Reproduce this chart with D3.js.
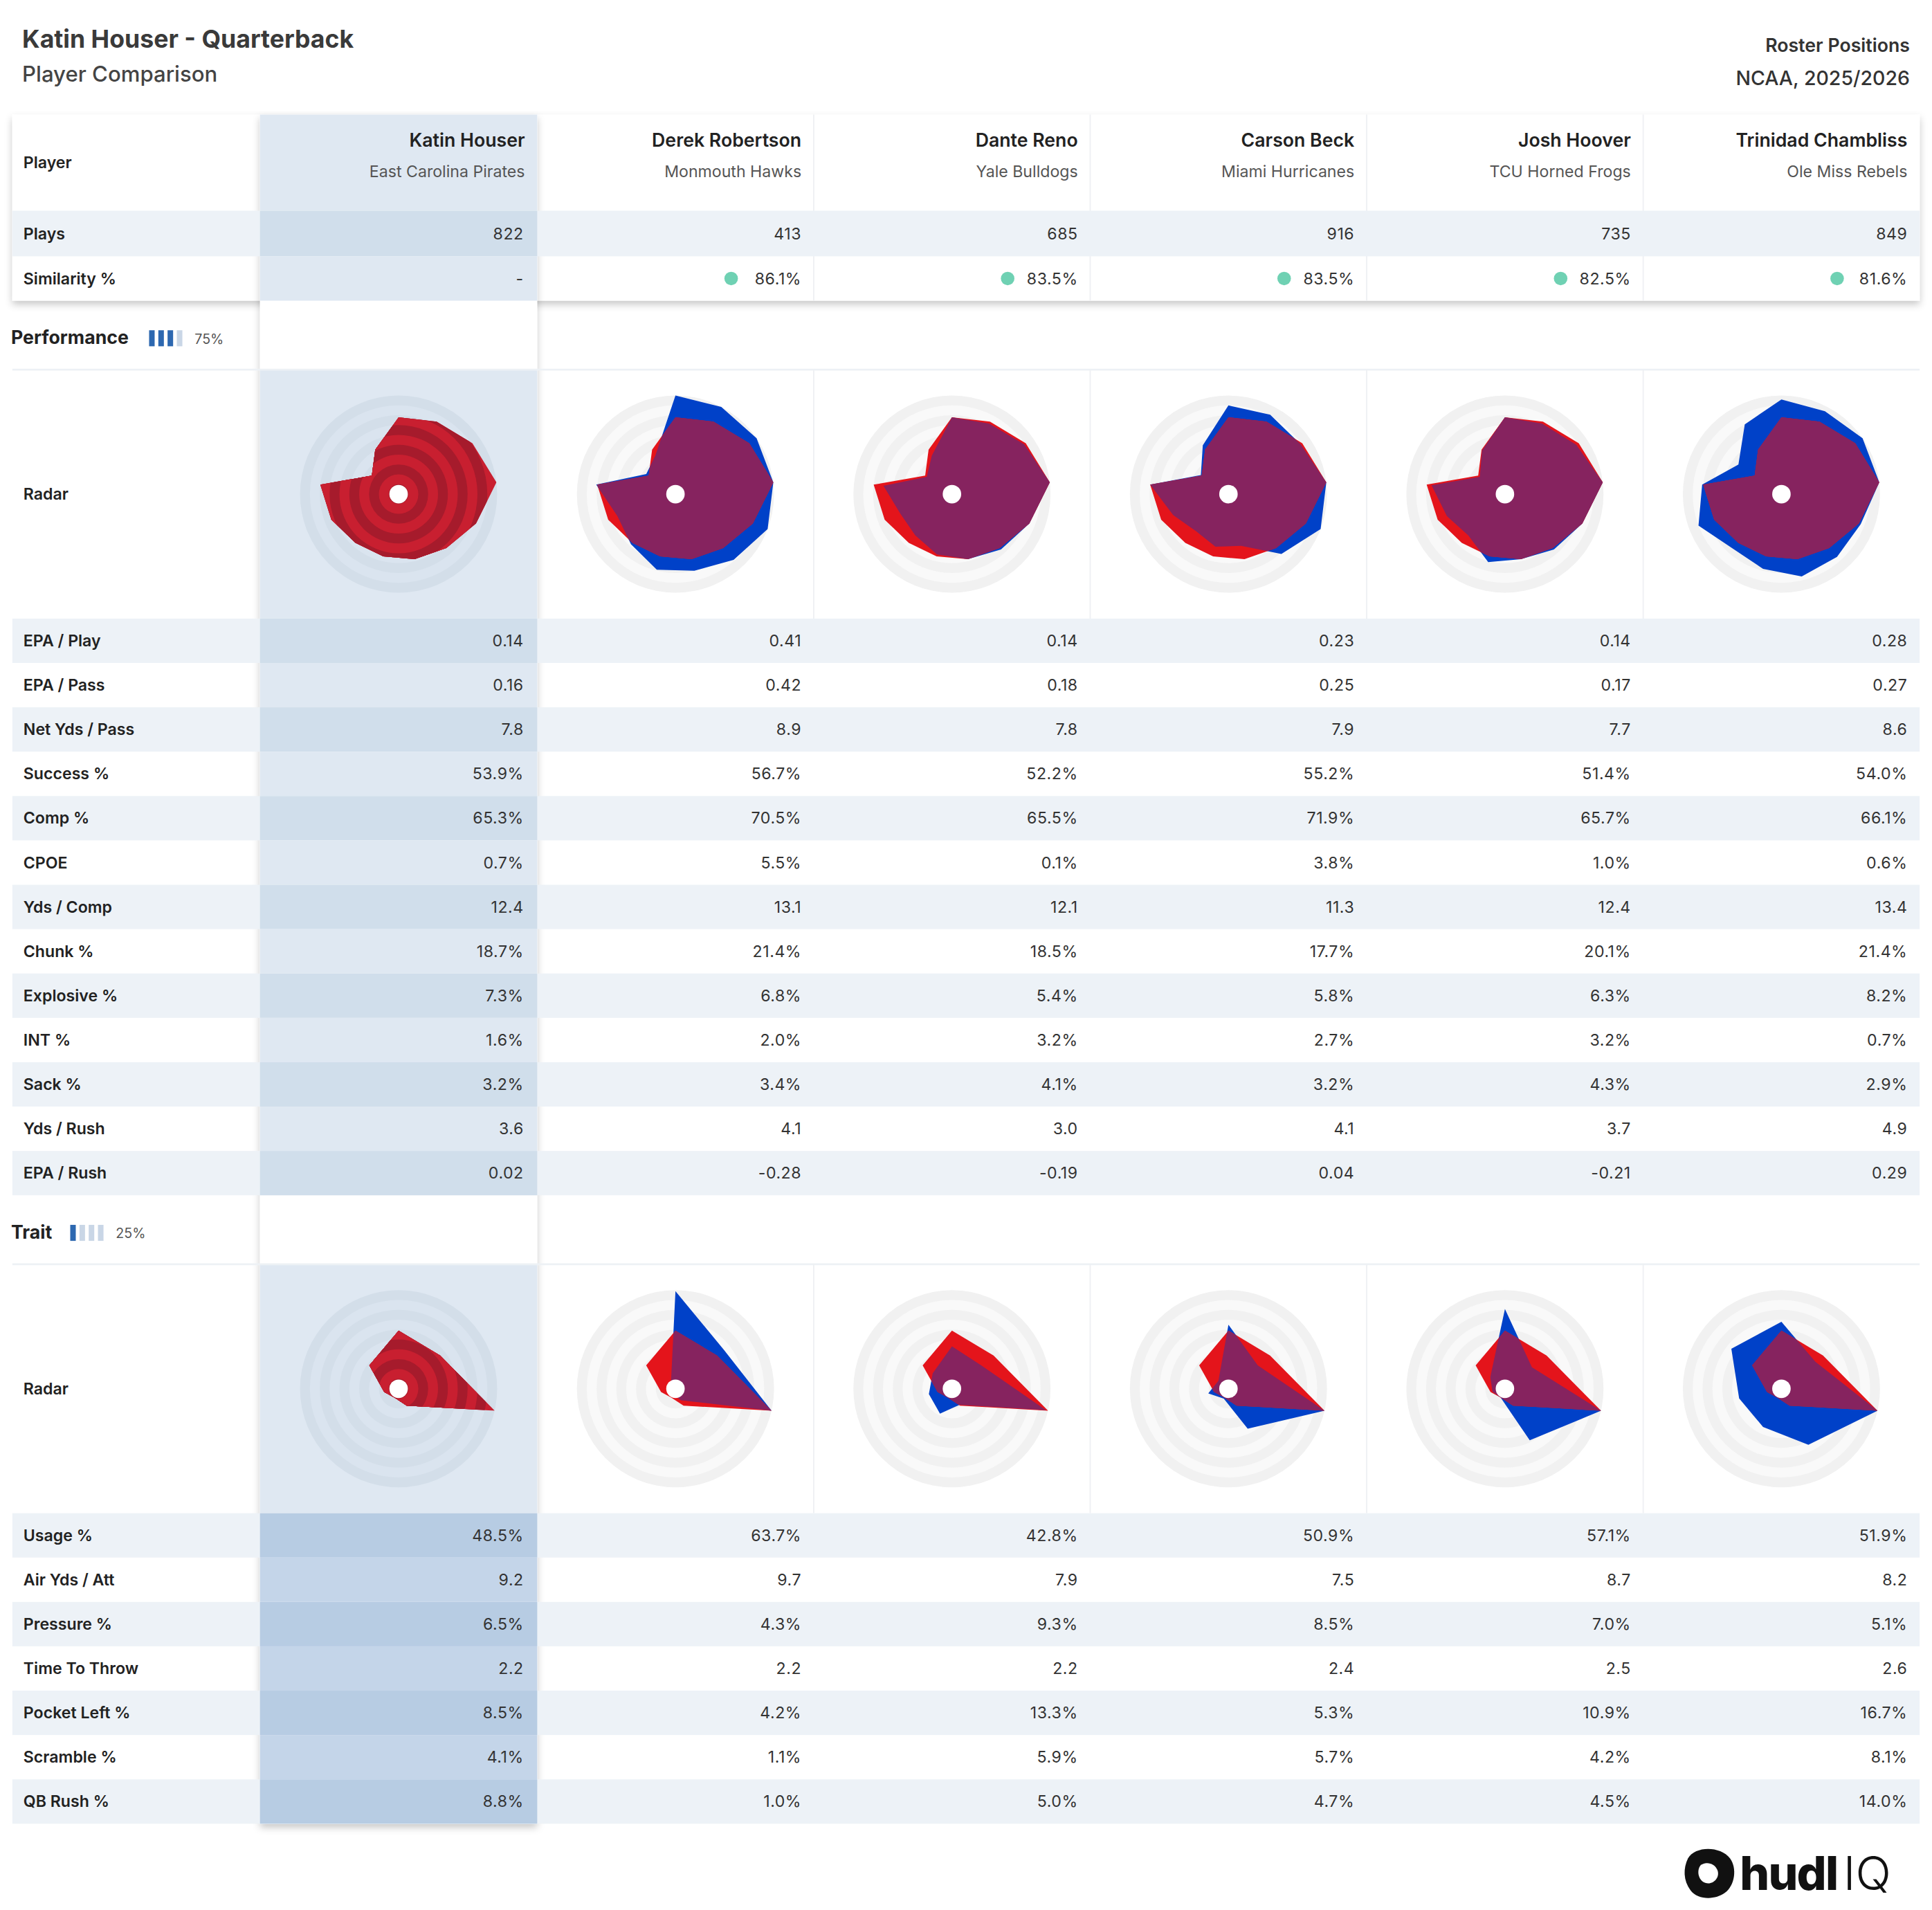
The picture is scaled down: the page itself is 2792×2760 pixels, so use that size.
<!DOCTYPE html>
<html><head><meta charset="utf-8">
<script src="https://cdn.jsdelivr.net/npm/d3@7"></script>
<style>body{margin:0;background:#fff}text{font-family:Inter,"Noto Sans",sans-serif}</style>
</head><body><div id="chart"></div>
<script>
const players = ["Katin Houser","Derek Robertson","Dante Reno","Carson Beck","Josh Hoover","Trinidad Chambliss"];
const teams = ["East Carolina Pirates","Monmouth Hawks","Yale Bulldogs","Miami Hurricanes","TCU Horned Frogs","Ole Miss Rebels"];
const plays = ["822","413","685","916","735","849"];
const similarity = ["-","86.1%","83.5%","83.5%","82.5%","81.6%"];

const perfMetrics = ["EPA / Play","EPA / Pass","Net Yds / Pass","Success %","Comp %","CPOE","Yds / Comp","Chunk %","Explosive %","INT %","Sack %","Yds / Rush","EPA / Rush"];
const perfValues = [
  ["0.14","0.16","7.8","53.9%","65.3%","0.7%","12.4","18.7%","7.3%","1.6%","3.2%","3.6","0.02"],
  ["0.41","0.42","8.9","56.7%","70.5%","5.5%","13.1","21.4%","6.8%","2.0%","3.4%","4.1","-0.28"],
  ["0.14","0.18","7.8","52.2%","65.5%","0.1%","12.1","18.5%","5.4%","3.2%","4.1%","3.0","-0.19"],
  ["0.23","0.25","7.9","55.2%","71.9%","3.8%","11.3","17.7%","5.8%","2.7%","3.2%","4.1","0.04"],
  ["0.14","0.17","7.7","51.4%","65.7%","1.0%","12.4","20.1%","6.3%","3.2%","4.3%","3.7","-0.21"],
  ["0.28","0.27","8.6","54.0%","66.1%","0.6%","13.4","21.4%","8.2%","0.7%","2.9%","4.9","0.29"]
];
const traitMetrics = ["Usage %","Air Yds / Att","Pressure %","Time To Throw","Pocket Left %","Scramble %","QB Rush %"];
const traitValues = [
  ["48.5%","9.2","6.5%","2.2","8.5%","4.1%","8.8%"],
  ["63.7%","9.7","4.3%","2.2","4.2%","1.1%","1.0%"],
  ["42.8%","7.9","9.3%","2.2","13.3%","5.9%","5.0%"],
  ["50.9%","7.5","8.5%","2.4","5.3%","5.7%","4.7%"],
  ["57.1%","8.7","7.0%","2.5","10.9%","4.2%","4.5%"],
  ["51.9%","8.2","5.1%","2.6","16.7%","8.1%","14.0%"]
];
// radar percentiles (0-100)
const perfRadar = [
  [78,83,91,100,84,73,68,65,66,73,80,33,51],
  [100,100,100,100,100,89,80,79,68,63,81,36,44],
  [78,81,89,100,84,75,68,63,56,56,70,31,44],
  [90,91,89,100,100,81,54,55,50,60,80,34,56],
  [78,81,88,100,84,75,68,71,56,63,75,31,50],
  [96,95,100,100,86,85,86,78,74,90,81,53,80]
];
const traitRadar = [
  [59,54,100,19,10,15,38],
  [99,63,100,13,6,6,6],
  [43,38,98,18,28,24,25],
  [65,38,100,45,11,21,13],
  [81,35,100,58,10,13,19],
  [68,44,100,63,43,44,65]
];

const W = 1568, H = 1550;
const svg = d3.select("#chart").append("svg")
  .attr("width", 2792).attr("height", 2760)
  .attr("viewBox", [0, 0, W, H]);
const defs = svg.append("defs");
const sh = defs.append("filter").attr("id","shadow").attr("x","-20%").attr("y","-20%").attr("width","140%").attr("height","140%");
sh.append("feDropShadow").attr("dx",0).attr("dy",3).attr("stdDeviation",3).attr("flood-color","#000").attr("flood-opacity",0.22);

const left = 10, right = 1558;
const colEdges = [left, 211, 436];
for (let i = 1; i <= 5; i++) colEdges.push(436 + i * (right - 436) / 5);
const colRight = i => colEdges[i + 2] - 10; // i = player index

const ink = "#222";

// titles
svg.append("text").attr("x",18).attr("y",39).attr("font-size",20).attr("font-weight",700).attr("fill","#3a3a3a").text("Katin Houser - Quarterback");
svg.append("text").attr("x",18).attr("y",66).attr("font-size",17.5).attr("font-weight",500).attr("fill","#444").text("Player Comparison");
svg.append("text").attr("x",1550).attr("y",42).attr("text-anchor","end").attr("font-size",15).attr("font-weight",600).attr("fill","#333").text("Roster Positions");
svg.append("text").attr("x",1550).attr("y",69).attr("text-anchor","end").attr("font-size",16).attr("font-weight",500).attr("fill","#333").text("NCAA, 2025/2026");

// header card
const headTop = 93, headBot = 244;
svg.append("rect").attr("x",left).attr("y",headTop).attr("width",right-left).attr("height",headBot-headTop).attr("fill","#fff").attr("filter","url(#shadow)");
// Houser column with shadow
svg.append("rect").attr("x",211).attr("y",headTop).attr("width",225).attr("height",1480-headTop).attr("fill","#fff").attr("filter","url(#shadow)");

const rowsG = svg.append("g");
function row(y0, h, shaded, label, vals, houserColors) {
  if (shaded) rowsG.append("rect").attr("x",left).attr("y",y0).attr("width",right-left).attr("height",h).attr("fill","#edf2f7");
  rowsG.append("rect").attr("x",211).attr("y",y0).attr("width",225).attr("height",h).attr("fill", shaded ? houserColors[0] : houserColors[1]);
  rowsG.append("text").attr("x",19).attr("y",y0+h/2).attr("dy","0.35em").attr("font-size",13).attr("font-weight",600).attr("fill",ink).text(label);
  vals.forEach((v,i) => rowsG.append("text").attr("x",colRight(i)+(i===0?-1:0)).attr("y",y0+h/2).attr("dy","0.35em")
    .attr("text-anchor","end").attr("font-size",13).attr("fill","#333").attr("letter-spacing",0.3).text(v));
}

// header row
rowsG.append("rect").attr("x",211).attr("y",headTop).attr("width",225).attr("height",78).attr("fill","#dfe8f2");
rowsG.append("text").attr("x",19).attr("y",132).attr("dy","0.35em").attr("font-size",13).attr("font-weight",600).attr("fill",ink).text("Player");
players.forEach((p,i) => {
  rowsG.append("text").attr("x",colRight(i)).attr("y",119).attr("text-anchor","end").attr("font-size",15).attr("font-weight",600).attr("fill",ink).text(p);
  rowsG.append("text").attr("x",colRight(i)).attr("y",144).attr("text-anchor","end").attr("font-size",13).attr("fill","#555").text(teams[i]);
});
for (let c = 3; c < colEdges.length - 1; c++)
  rowsG.append("line").attr("x1",colEdges[c]).attr("x2",colEdges[c]).attr("y1",headTop).attr("y2",headBot).attr("stroke","#eef0f3");
const blueish = ["#d0deeb","#dfe8f2"];
row(171, 37, true, "Plays", plays, blueish);
row(208, 36, false, "Similarity %", similarity, blueish);
similarity.forEach((s,i) => { if (i>0) rowsG.append("circle").attr("cx",colRight(i)-57).attr("cy",226).attr("r",5.5).attr("fill","#6fd1b3"); });

// section headers
function section(y, label, x0, nBlue, pct) {
  rowsG.append("text").attr("x",9).attr("y",y).attr("dy","0.35em").attr("font-size",15).attr("font-weight",700).attr("fill",ink).text(label);
  for (let k = 0; k < 4; k++) rowsG.append("rect").attr("x",x0+k*7.5).attr("y",y-6).attr("width",4.5).attr("height",13).attr("fill", k < nBlue ? "#2d68b0" : "#c9d6e6");
  rowsG.append("text").attr("x",x0+37).attr("y",y+1).attr("dy","0.35em").attr("font-size",11).attr("fill","#555").text(pct);
}
section(274, "Performance", 121, 3, "75%");
section(1000, "Trait", 57, 1, "25%");

// radar rows
const rScale = d3.scaleLinear().domain([0,100]).range([0,80]);
let clipId = 0;
function radarRow(y0, h, data) {
  rowsG.append("rect").attr("x",211).attr("y",y0).attr("width",225).attr("height",h).attr("fill","#dfe8f2");
  rowsG.append("text").attr("x",19).attr("y",y0+h/2).attr("dy","0.35em").attr("font-size",13).attr("font-weight",600).attr("fill",ink).text("Radar");
  rowsG.append("line").attr("x1",left).attr("x2",right).attr("y1",y0).attr("y2",y0).attr("stroke","#edf1f5").attr("stroke-width",1.5);
  for (let c = 3; c < colEdges.length - 1; c++)
    rowsG.append("line").attr("x1",colEdges[c]).attr("x2",colEdges[c]).attr("y1",y0).attr("y2",y0+h).attr("stroke","#eef0f3");
  const n = data[0].length;
  const angle = d3.scaleLinear().domain([0,n]).range([0,2*Math.PI]);
  const line = d3.lineRadial().curve(d3.curveLinearClosed).angle((d,i) => angle(i)).radius(d => rScale(d));
  const cy = y0 + h/2;
  data.forEach((vals,i) => {
    const cx = (colEdges[i+1] + colEdges[i+2]) / 2;
    const g = rowsG.append("g").attr("transform",`translate(${cx},${cy})`);
    const ringCols = i === 0 ? ["#d3dee9","#dae4ef"] : ["#f1f1f1","#f9f9f9"];
    d3.range(80, 7, -8).forEach((r,k) => g.append("circle").attr("r",r).attr("fill",ringCols[k%2]));
    if (i === 0) {
      const id = "clip" + (clipId++);
      defs.append("clipPath").attr("id",id).append("path").attr("d",line(vals));
      const sg = g.append("g").attr("clip-path",`url(#${id})`);
      d3.range(80, 7, -8).forEach((r,k) => sg.append("circle").attr("r",r).attr("fill", k%2 ? "#a61b2c" : "#c81f30"));
    } else {
      const base = data[0];
      g.append("path").attr("d",line(vals)).attr("fill","#0041c8");
      g.append("path").attr("d",line(base)).attr("fill","#e4141b");
      const id = "clip" + (clipId++);
      defs.append("clipPath").attr("id",id).append("path").attr("d",line(vals));
      g.append("path").attr("d",line(base)).attr("fill","#86235f").attr("clip-path",`url(#${id})`);
    }
    g.append("circle").attr("r",7.5).attr("fill","#fff");
  });
}

radarRow(300, 202, perfRadar);
perfMetrics.forEach((m,k) => row(502 + k*36, 36, k%2===0, m, perfValues.map(p => p[k]), blueish));
radarRow(1026, 202, traitRadar);
traitMetrics.forEach((m,k) => row(1228 + k*36, 36, k%2===0, m, traitValues.map(p => p[k]), ["#b7cce3","#c4d5e9"]));

// logo
const logo = svg.append("g").attr("transform","translate(1366,1500)");
logo.append("path").attr("d","M4,8 C10,-2 30,-2 38,8 C44,16 42,30 34,36 C26,42 12,42 6,34 C0,26 0,16 4,8 Z").attr("fill","#111");
logo.append("path").attr("d","M14,14 C18,10 26,12 28,18 C30,24 24,30 18,28 C12,26 11,18 14,14 Z").attr("fill","#fff");
logo.append("text").attr("x",46).attr("y",34).attr("font-size",38).attr("font-weight",800).attr("fill","#111").attr("letter-spacing",-1).text("hudl");
logo.append("text").attr("x",130).attr("y",34).attr("font-size",38).attr("font-weight",300).attr("fill","#111").text("IQ");
</script></body></html>
